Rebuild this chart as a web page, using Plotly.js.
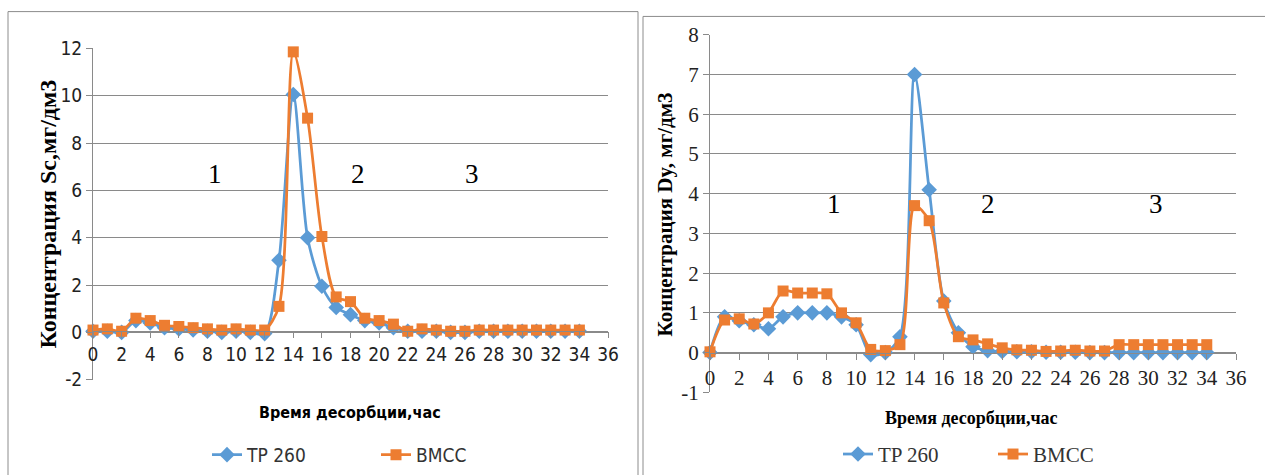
<!DOCTYPE html>
<html>
<head>
<meta charset="utf-8">
<script src="https://cdn.plot.ly/plotly-3.0.1.min.js"></script>
<style>html,body{margin:0;padding:0;background:#fff;}#chart{width:1265px;height:475px;}</style>
</head>
<body>
<div id="chart"></div>
<script>
// ---- data ----
const hours = [0,1,2,3,4,5,6,7,8,9,10,11,12,13,14,15,16,17,18,19,20,21,22,23,24,25,26,27,28,29,30,31,32,33,34];
const seriesNames = ["TP 260", "BMCC"];
// Sc concentration, mg/dm3 (left chart)
const scTP260 = [0.05,0.05,0,0.5,0.4,0.2,0.15,0.1,0.05,0,0.05,0,-0.05,3.05,10.05,4.0,1.95,1.05,0.75,0.5,0.4,0.2,0.05,0.05,0.05,0,0,0.05,0.05,0.05,0.05,0.05,0.05,0.05,0.05];
const scBMCC  = [0.1,0.15,0.05,0.6,0.5,0.3,0.25,0.2,0.15,0.1,0.15,0.1,0.1,1.1,11.85,9.05,4.05,1.5,1.3,0.6,0.5,0.35,0.05,0.15,0.1,0.05,0.05,0.1,0.1,0.1,0.1,0.1,0.1,0.1,0.1];
// Dy concentration, mg/dm3 (right chart)
const dyTP260 = [0,0.9,0.8,0.7,0.6,0.9,1.0,1.0,1.0,0.9,0.7,-0.05,0,0.4,7.0,4.1,1.3,0.5,0.15,0.05,0.03,0.02,0.02,0.01,0.01,0.01,0,0,0,0,0,0,0,0,0];
const dyBMCC  = [0.02,0.82,0.85,0.72,1.0,1.55,1.5,1.5,1.48,1.0,0.75,0.08,0.05,0.2,3.7,3.32,1.25,0.4,0.32,0.22,0.12,0.07,0.06,0.03,0.04,0.06,0.04,0.04,0.2,0.2,0.2,0.2,0.2,0.2,0.2];
// tick labels
const xTickVals = [0,2,4,6,8,10,12,14,16,18,20,22,24,26,28,30,32,34,36];
const leftYTickVals = [-2,0,2,4,6,8,10,12];
const leftYTickText = ["-2","0","2","4","6","8","10","12"];
const rightYTickVals = [-1,0,1,2,3,4,5,6,7,8];
const rightYTickText = ["-1","0","1","2","3","4","5","6","7","8"];
// zone labels
const zoneLabels = ["1","2","3"];
const zoneXLeft = [8.5, 18.5, 26.5];
const zoneYLeft = [6.7, 6.7, 6.7];
const zoneXRight = [8.5, 19.0, 30.5];
const zoneYRight = [3.75, 3.75, 3.75];
const leftYTitle = "Концентрация Sc,мг/дм3";
const rightYTitle = "Концентрация Dy, мг/дм3";
const xTitle = "Время десорбции,час";

// ---- styling ----
const BLUE = "#5B9BD5", ORANGE = "#ED7D31";
const GRID = "#8a8a8a";
const SANSN = "'DejaVu Sans Condensed', 'Liberation Sans Narrow', 'Liberation Sans', sans-serif";
const SERIF = "'Liberation Serif', 'Times New Roman', serif";

function mk(x, y, name, color, symbol, size, xa, ya, leg) {
  return {
    x: x, y: y, name: name, type: "scatter", mode: "lines+markers",
    xaxis: xa, yaxis: ya, legend: leg, cliponaxis: false,
    line: {color: color, width: 2.75, shape: "spline", smoothing: 0.8},
    marker: {color: color, symbol: symbol, size: size}
  };
}

const traces = [
  mk(hours, scTP260, seriesNames[0], BLUE, "diamond", 12, "x", "y", "legend"),
  mk(hours, scBMCC, seriesNames[1], ORANGE, "square", 11, "x", "y", "legend"),
  mk(hours, dyTP260, seriesNames[0], BLUE, "diamond", 12, "x2", "y2", "legend2"),
  mk(hours, dyBMCC, seriesNames[1], ORANGE, "square", 11, "x2", "y2", "legend2")
];

const W = 1265, H = 475;
const px = v => v / W, py = v => 1 - v / H;

function xax(domain, pos, font) {
  return {
    domain: domain, anchor: "free", position: pos,
    range: [0, 36], tickmode: "array", tickvals: xTickVals, ticktext: xTickVals.map(String),
    showgrid: false, zeroline: false,
    showline: true, linecolor: GRID, linewidth: 1,
    ticks: "outside", ticklen: 6, tickcolor: GRID,
    tickfont: font, fixedrange: true
  };
}
function yax(domain, range, vals, text, font, anchor) {
  return {
    domain: domain, anchor: anchor, range: range, tickmode: "array", tickvals: vals, ticktext: text,
    showgrid: true, gridcolor: GRID, gridwidth: 1, zeroline: false,
    showline: true, linecolor: GRID, linewidth: 1,
    ticks: "outside", ticklen: 6, tickcolor: GRID,
    tickfont: font, fixedrange: true
  };
}

const leftTickFont = {family: SANSN, size: 19, color: "#222"};
const rightTickFont = {family: SERIF, size: 21, color: "#222"};

const annotations = [];
zoneLabels.forEach((t, i) => {
  annotations.push({text: t, x: zoneXLeft[i], y: zoneYLeft[i], xref: "x", yref: "y", showarrow: false,
    xanchor: "center", yanchor: "middle", font: {family: SERIF, size: 27, color: "#000"}});
  annotations.push({text: t, x: zoneXRight[i], y: zoneYRight[i], xref: "x2", yref: "y2", showarrow: false,
    xanchor: "center", yanchor: "middle", font: {family: SERIF, size: 27, color: "#000"}});
});
annotations.push({text: "<b>" + leftYTitle + "</b>", textangle: -90, x: px(48), y: py(222), xref: "paper", yref: "paper",
  xanchor: "center", yanchor: "middle", showarrow: false, font: {family: SERIF, size: 24, color: "#000"}});
annotations.push({text: "<b>" + rightYTitle + "</b>", textangle: -90, x: px(665), y: py(222), xref: "paper", yref: "paper",
  xanchor: "center", yanchor: "middle", showarrow: false, font: {family: SERIF, size: 21, color: "#000"}});
annotations.push({text: "<b>" + xTitle + "</b>", x: px(350), y: py(427), xref: "paper", yref: "paper",
  xanchor: "center", yanchor: "middle", showarrow: false, font: {family: SANSN, size: 16, color: "#000"}});
annotations.push({text: "<b>" + xTitle + "</b>", x: px(971), y: py(433), xref: "paper", yref: "paper",
  xanchor: "center", yanchor: "middle", showarrow: false, font: {family: SERIF, size: 18, color: "#000"}});

const layout = {
  width: W, height: H,
  margin: {l: 0, r: 0, t: 0, b: 0},
  paper_bgcolor: "#fff", plot_bgcolor: "#fff",
  showlegend: true,
  xaxis: xax([px(93), px(608)], py(343), leftTickFont),
  yaxis: yax([py(393), py(50)], [-2, 12], leftYTickVals, leftYTickText, leftTickFont, "x"),
  xaxis2: xax([px(710), px(1236)], py(365), rightTickFont),
  yaxis2: yax([py(406), py(36)], [-1, 8], rightYTickVals, rightYTickText, rightTickFont, "x2"),
  legend: {orientation: "h", x: px(207), y: py(451), xanchor: "left", yanchor: "top",
    entrywidth: 124, font: {family: SANSN, size: 19, color: "#333"}, bgcolor: "rgba(0,0,0,0)"},
  legend2: {orientation: "h", x: px(838), y: py(449), xanchor: "left", yanchor: "top",
    entrywidth: 110, font: {family: SERIF, size: 21, color: "#333"}, bgcolor: "rgba(0,0,0,0)"},
  annotations: annotations,
  shapes: [
    {type: "rect", xref: "paper", yref: "paper", x0: px(8), x1: px(638), y0: -0.05, y1: py(12),
      line: {color: "#8c8c8c", width: 1}},
    {type: "rect", xref: "paper", yref: "paper", x0: px(643), x1: 1.05, y0: -0.05, y1: py(17),
      line: {color: "#8c8c8c", width: 1}}
  ]
};

Plotly.newPlot("chart", traces, layout, {staticPlot: true, displayModeBar: false});
</script>
</body>
</html>
